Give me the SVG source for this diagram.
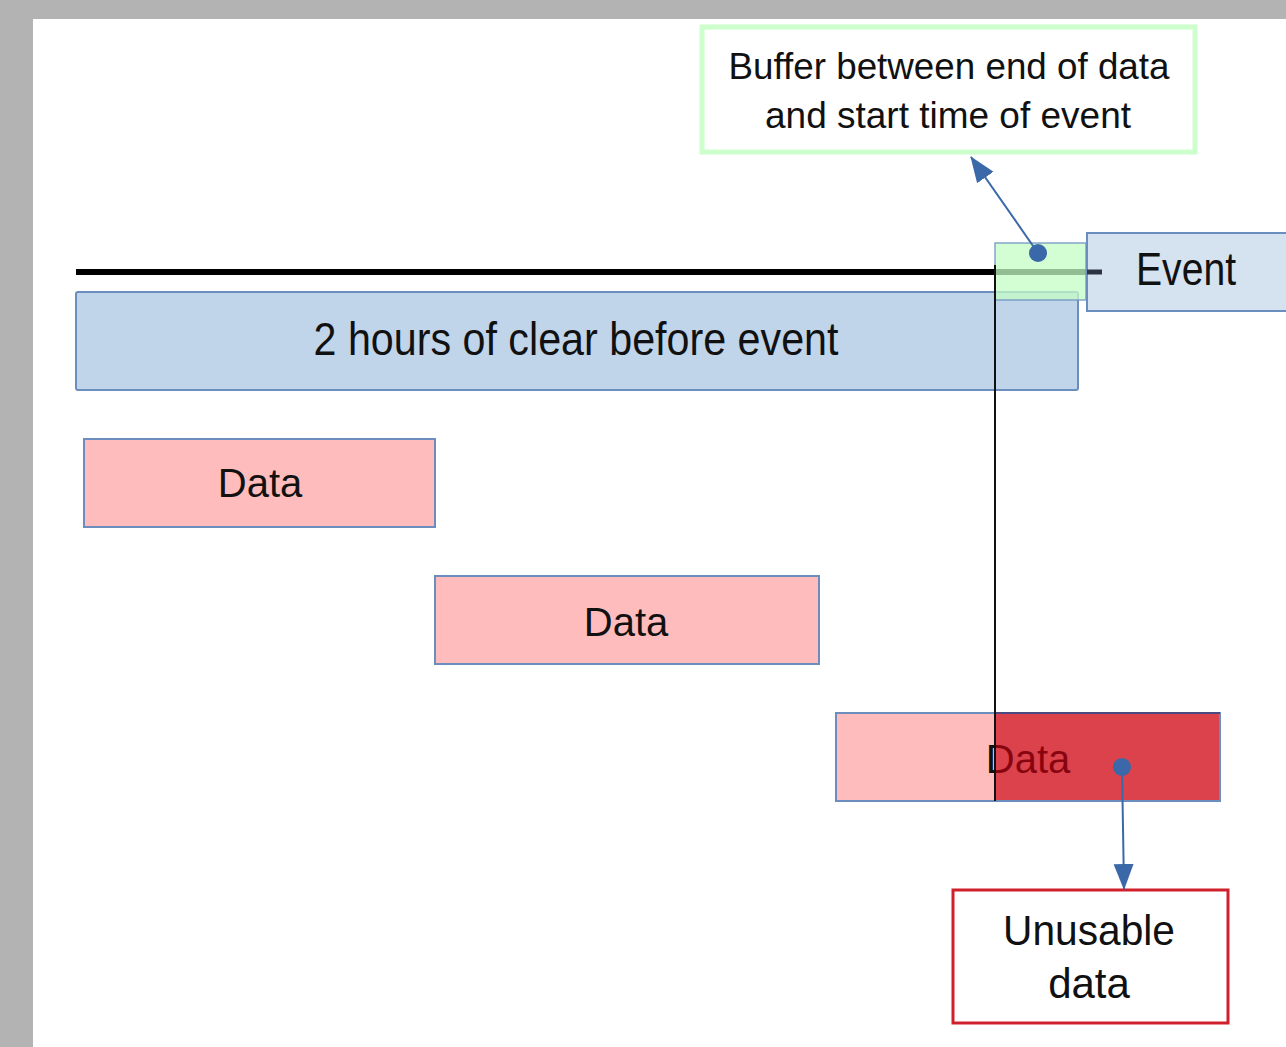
<svg xmlns="http://www.w3.org/2000/svg" width="1286" height="1047" viewBox="0 0 1286 1047">
  <defs>
    <marker id="arrow" viewBox="0 0 26 22" refX="25" refY="11" markerWidth="26" markerHeight="22" markerUnits="userSpaceOnUse" orient="auto">
      <path d="M0,1 L26,11 L0,21 Z" fill="#3a68a8"/>
    </marker>
    <style>
      text { font-family: "Liberation Sans", Arial, sans-serif; fill: #111; text-anchor: middle; }
      .blue { fill: #c0d4ea; stroke: #6c8ebf; stroke-width: 2; }
      .data { fill: #ffbcbc; stroke: #6c8ebf; stroke-width: 2; }
      .conn { fill: none; stroke: #3a68a8; stroke-width: 2; }
      .dot { fill: #3a68a8; }
    </style>
  </defs>

  <!-- page frame -->
  <rect x="0" y="0" width="1286" height="1047" fill="#b3b3b3"/>
  <rect x="33" y="19" width="1253" height="1028" fill="#ffffff"/>

  <!-- timeline -->
  <g id="timeline">
    <line x1="76" y1="272" x2="1087" y2="272" stroke="#000" stroke-width="6"/>
  </g>

  <!-- window of clear time -->
  <g id="clear-window">
    <rect class="blue" x="76" y="292" width="1002" height="98" rx="2"/>
    <text x="576" y="355" font-size="46" textLength="525" lengthAdjust="spacingAndGlyphs">2 hours of clear before event</text>
  </g>

  <!-- event -->
  <g id="event">
    <rect x="1087" y="233" width="205" height="78" fill="#d5e2f0" stroke="#6c8ebf" stroke-width="2"/>
    <line x1="1087" y1="272" x2="1102" y2="272" stroke="#2b3440" stroke-width="5"/>
    <text x="1186" y="285" font-size="46" textLength="100" lengthAdjust="spacingAndGlyphs">Event</text>
  </g>

  <!-- buffer zone -->
  <g id="buffer">
    <rect x="995" y="243" width="91" height="57" fill="#c4fcc4" fill-opacity="0.75" stroke="#6c8ebf" stroke-opacity="0.8" stroke-width="1.5"/>
  </g>

  <!-- buffer label -->
  <g id="buffer-label">
    <rect x="702" y="27" width="493" height="125" fill="#ffffff" stroke="#ccffcc" stroke-width="5"/>
    <text x="949" y="79" font-size="37" textLength="441" lengthAdjust="spacingAndGlyphs">Buffer between end of data</text>
    <text x="948" y="128" font-size="37" textLength="366" lengthAdjust="spacingAndGlyphs">and start time of event</text>
  </g>

  <!-- data blocks -->
  <g id="data-1">
    <rect class="data" x="84" y="439" width="351" height="88"/>
    <text x="260" y="497" font-size="40">Data</text>
  </g>
  <g id="data-2">
    <rect class="data" x="435" y="576" width="384" height="88"/>
    <text x="626" y="636" font-size="40">Data</text>
  </g>
  <g id="data-3">
    <rect x="836" y="713" width="384" height="88" fill="#ffbcbc"/>
    <text x="1028" y="773" font-size="40">Data</text>
    <!-- portion after the event start -->
    <rect x="995" y="713" width="225" height="88" fill="#c80010" fill-opacity="0.65"/>
    <rect x="836" y="713" width="384" height="88" fill="none" stroke="#6c8ebf" stroke-width="2"/>
    <line x1="995" y1="713" x2="1220" y2="713" stroke="#4a4a80" stroke-width="2"/>
  </g>

  <!-- event start marker -->
  <g id="event-start">
    <line x1="995" y1="265" x2="995" y2="801" stroke="#111" stroke-width="2"/>
  </g>

  <!-- unusable label -->
  <g id="unusable">
    <rect x="953" y="890" width="275" height="133" fill="#ffffff" stroke="#d0202c" stroke-width="3"/>
    <text x="1089" y="945" font-size="42" textLength="172" lengthAdjust="spacingAndGlyphs">Unusable</text>
    <text x="1089" y="998" font-size="42">data</text>
  </g>

  <!-- connectors -->
  <g id="connectors">
    <circle class="dot" cx="1038" cy="253" r="9"/>
    <line class="conn" x1="1038" y1="253" x2="971" y2="157" marker-end="url(#arrow)"/>
    <circle class="dot" cx="1122" cy="767" r="9"/>
    <line class="conn" x1="1122" y1="767" x2="1124" y2="889" marker-end="url(#arrow)"/>
  </g>
</svg>
